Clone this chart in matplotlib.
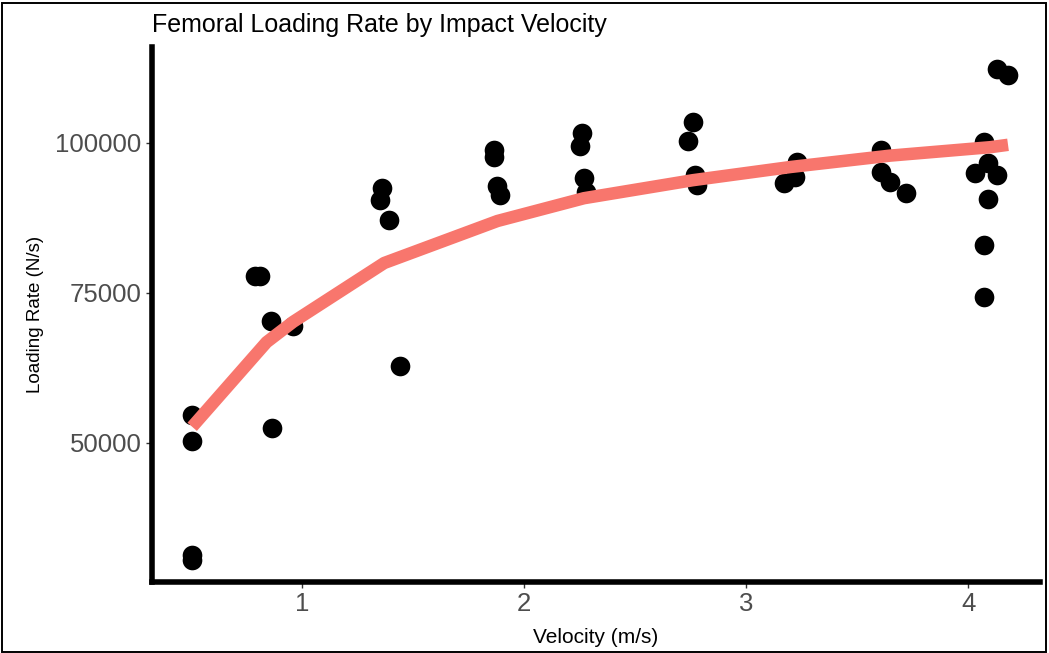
import matplotlib
matplotlib.use("Agg")
import matplotlib.pyplot as plt
from matplotlib.patches import Rectangle

plt.rcParams["font.family"] = ["Liberation Sans", "DejaVu Sans"]

# observed impacts
velocity = [0.505, 0.505, 0.505, 0.505, 0.79, 0.81, 0.86, 0.865, 0.96,
            1.35, 1.36, 1.39, 1.44,
            1.865, 1.865, 1.88, 1.89,
            2.25, 2.26, 2.27, 2.28,
            2.74, 2.76, 2.77, 2.78,
            3.17, 3.22, 3.23,
            3.61, 3.61, 3.65, 3.72,
            4.03, 4.07, 4.07, 4.07, 4.09, 4.09, 4.13, 4.13, 4.18]
loading_rate = [54700, 50300, 31300, 30500, 77900, 77900, 70300, 52500, 69500,
                90500, 92500, 87200, 62800,
                98800, 97700, 92800, 91300,
                99500, 101700, 94100, 91900,
                100300, 103500, 94700, 93000,
                93300, 94300, 96800,
                95200, 98800, 93500, 91700,
                95000, 100200, 83000, 74300, 96700, 90700, 94700, 112300, 111300]

# fitted curve
fit_velocity = [0.505, 0.84, 0.96, 1.37, 1.88, 2.27, 2.76, 3.2, 3.65, 4.1, 4.18]
fit_rate = [52700, 66800, 70200, 80000, 87000, 90800, 93800, 96000, 97900, 99300, 99700]

fig = plt.figure(figsize=(10.49, 6.53), dpi=100)
ax = fig.add_axes([152 / 1049, 1 - 582 / 653, (1040 - 152) / 1049, (582 - 47) / 653])

ax.scatter(velocity, loading_rate, s=200, color="black", zorder=2, linewidths=0)
ax.plot(fit_velocity, fit_rate, color="#F8766D", lw=9, zorder=3, solid_capstyle="butt")

ax.set_xlim(0.324, 4.324)
ax.set_ylim(26833, 116000)
ax.set_xticks([1, 2, 3, 4])
ax.set_yticks([50000, 75000, 100000])
ax.tick_params(labelsize=18.5, labelcolor="#4D4D4D", color="#333333", length=4, width=1)

for side in ("top", "right"):
    ax.spines[side].set_visible(False)
for side in ("left", "bottom"):
    ax.spines[side].set_linewidth(4)

ax.set_xlabel("Velocity (m/s)", fontsize=15, labelpad=8)
ax.set_ylabel("Loading Rate (N/s)", fontsize=13.5, labelpad=8)
fig.text(152 / 1049, 1 - 25 / 653, "Femoral Loading Rate by Impact Velocity",
         fontsize=18, va="center", ha="left")

fig.patches.append(Rectangle((0.002, 0.002), 0.995, 0.994, transform=fig.transFigure,
                             fill=False, edgecolor="black", lw=1.4))

fig.savefig("out.png", dpi=100)
